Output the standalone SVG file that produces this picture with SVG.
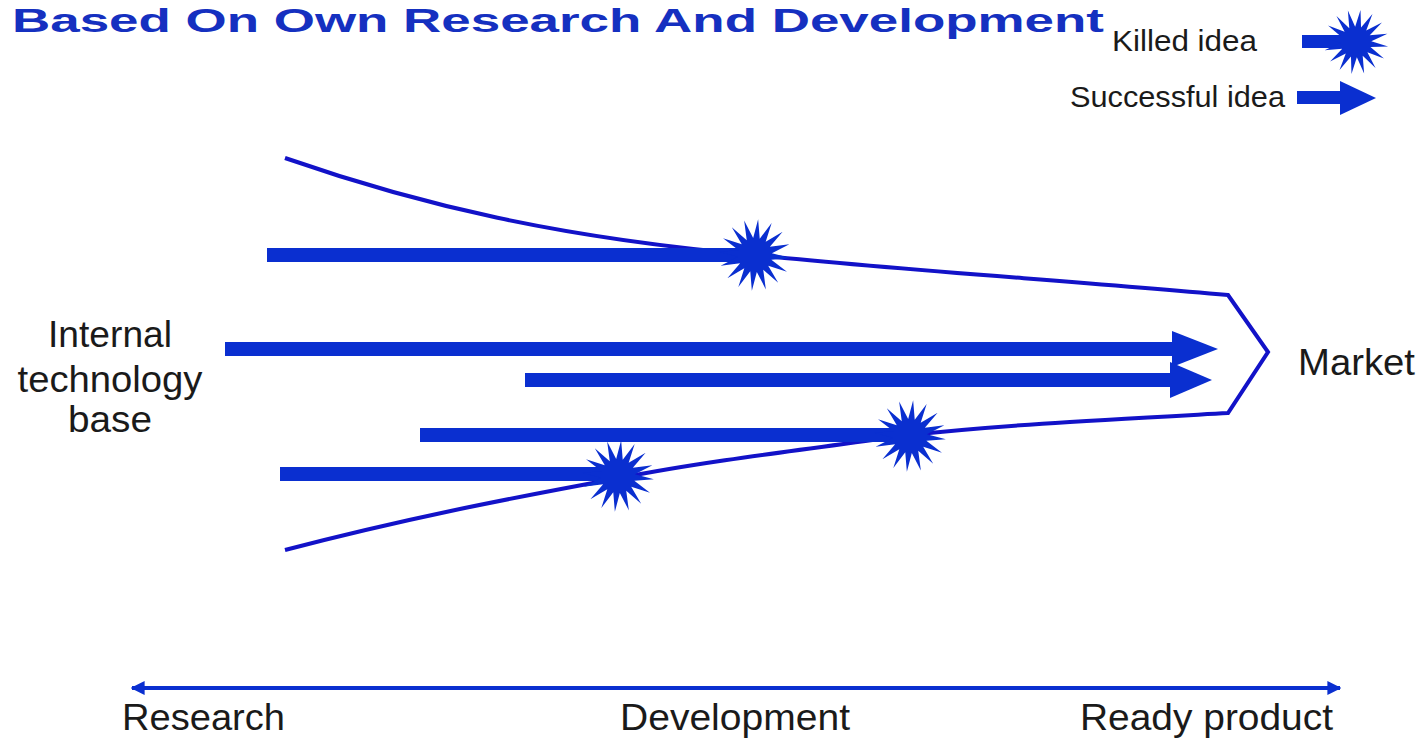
<svg xmlns="http://www.w3.org/2000/svg" width="1420" height="739" viewBox="0 0 1420 739">
<defs>
<style>
.t{font-family:"Liberation Sans",Arial,sans-serif;fill:#1a1a1a}
.bar{fill:#0a2fd0}
.fun{fill:none;stroke:#1212c8;stroke-width:4;stroke-linejoin:miter}
</style>
<polygon id="star" fill="#0a2fd0" points="36,0 16.7,3.3 33.3,13.8 14.1,9.5 25.5,25.5 9.5,14.1 13.8,33.3 3.3,16.7 0,36 -3.3,16.7 -13.8,33.3 -9.5,14.1 -25.5,25.5 -14.1,9.5 -33.3,13.8 -16.7,3.3 -36,0 -16.7,-3.3 -33.3,-13.8 -14.1,-9.5 -25.5,-25.5 -9.5,-14.1 -13.8,-33.3 -3.3,-16.7 0,-36 3.3,-16.7 13.8,-33.3 9.5,-14.1 25.5,-25.5 14.1,-9.5 33.3,-13.8 16.7,-3.3"/>
<marker id="ah" viewBox="0 0 10 10" refX="9" refY="5" markerWidth="3.5" markerHeight="3.5" orient="auto-start-reverse" markerUnits="strokeWidth"><path d="M0,0 L10,5 L0,10 Z" fill="#0a2fd0"/></marker>
</defs>
<rect width="1420" height="739" fill="#fff"/>
<text id="title" x="12" y="32" font-family="Liberation Sans,Arial,sans-serif" font-weight="bold" font-size="34" fill="#1530c0" textLength="1092" lengthAdjust="spacingAndGlyphs">Based On Own Research And Development</text>

<g id="legend">
<text class="t" x="1112" y="51" font-size="30" textLength="145" lengthAdjust="spacingAndGlyphs">Killed idea</text>
<rect class="bar" x="1302" y="35" width="40" height="13"/>
<use href="#star" transform="translate(1356,42) scale(0.9) rotate(8)"/>
<text class="t" x="1070" y="107" font-size="30" textLength="215" lengthAdjust="spacingAndGlyphs">Successful idea</text>
<rect class="bar" x="1297" y="91" width="45" height="13"/>
<polygon class="bar" points="1340,81 1376,98 1340,115"/>
</g>

<g id="funnel">
<path class="fun" d="M285,158 C420,205 560,238 755,255 C900,270 1060,280 1228,295 L1268,352 L1228,413 C1100,420 1000,425 910,435 C800,450 700,462 620,478 C500,500 400,520 285,550"/>
</g>

<g id="connectors">
<g id="idea1">
<rect class="bar" x="267" y="248" width="488" height="14"/>
<use href="#star" transform="translate(755,255) rotate(5)"/>
</g>
<g id="idea2">
<rect class="bar" x="225" y="342" width="955" height="14"/>
<polygon class="bar" points="1172,331 1218,349 1172,367"/>
</g>
<g id="idea3">
<rect class="bar" x="525" y="373" width="650" height="14"/>
<polygon class="bar" points="1170,362 1212,380 1170,398"/>
</g>
<g id="idea4">
<rect class="bar" x="420" y="428" width="490" height="14"/>
<use href="#star" transform="translate(910,436) rotate(5)"/>
</g>
<g id="idea5">
<rect class="bar" x="280" y="467" width="338" height="14"/>
<use href="#star" transform="translate(618,476) rotate(5)"/>
</g>
<line id="axis" x1="132" y1="688" x2="1340" y2="688" stroke="#0a2fd0" stroke-width="4" marker-start="url(#ah)" marker-end="url(#ah)"/>
</g>

<g id="source">
<text class="t" font-size="36" text-anchor="middle"><tspan x="110" y="347" textLength="124" lengthAdjust="spacingAndGlyphs">Internal</tspan><tspan x="110" y="392" textLength="185" lengthAdjust="spacingAndGlyphs">technology</tspan><tspan x="110" y="432" textLength="84" lengthAdjust="spacingAndGlyphs">base</tspan></text>
</g>
<g id="market"><text class="t" x="1298" y="375" font-size="36" textLength="117" lengthAdjust="spacingAndGlyphs">Market</text></g>

<g id="axis-labels">
<text class="t" x="122" y="730" font-size="37" textLength="163" lengthAdjust="spacingAndGlyphs">Research</text>
<text class="t" x="620" y="730" font-size="37" textLength="230" lengthAdjust="spacingAndGlyphs">Development</text>
<text class="t" x="1080" y="730" font-size="37" textLength="253" lengthAdjust="spacingAndGlyphs">Ready product</text>
</g>
</svg>
